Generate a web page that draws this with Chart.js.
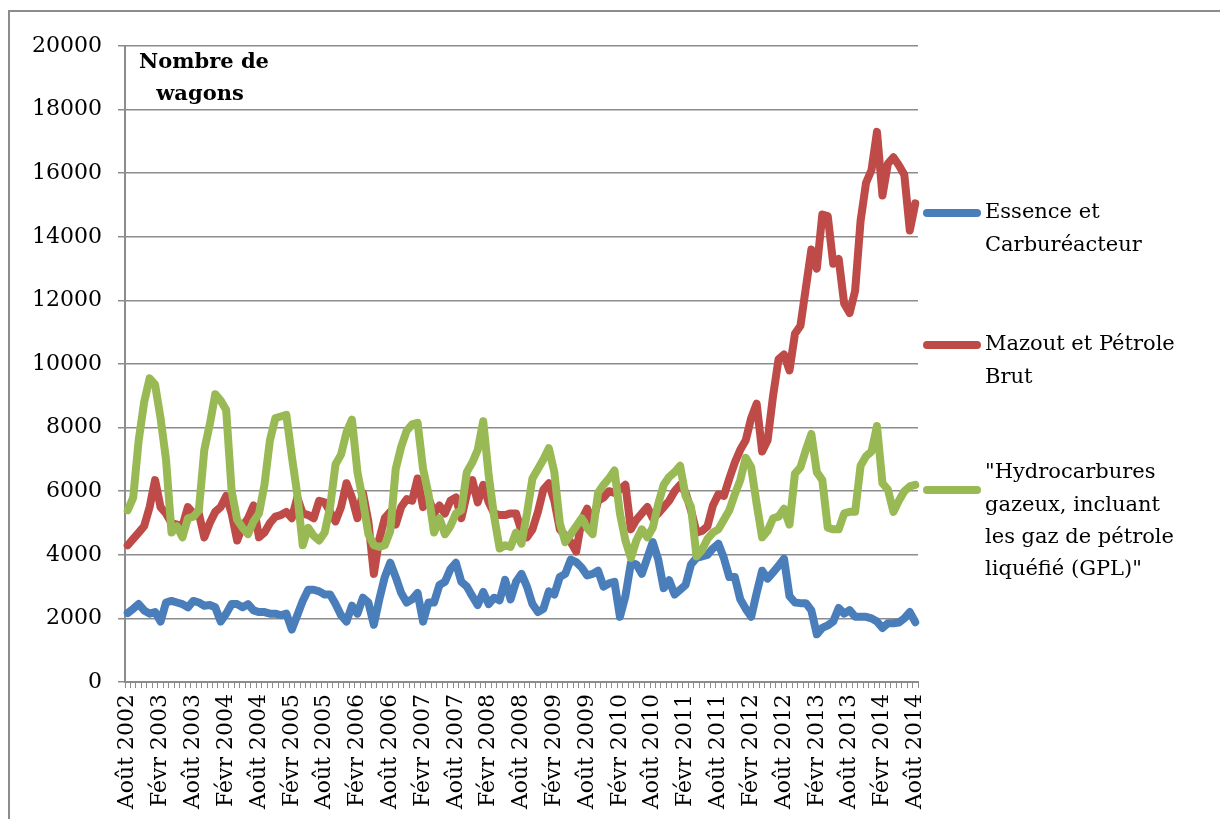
<!DOCTYPE html>
<html>
<head>
<meta charset="utf-8">
<script src="https://cdn.jsdelivr.net/npm/chart.js@4.4.1/dist/chart.umd.min.js"></script>
<style>
    html, body { margin: 0; padding: 0; background: #fff; overflow: hidden; }
    #wrap { position: relative; width: 1220px; height: 819px; }
    #frame {
        position: absolute; left: 8px; top: 10px; width: 1300px; height: 900px;
        border-left: 2px solid #8c8c8c; border-top: 2px solid #8c8c8c;
    }
    canvas { position: absolute; left: 0; top: 0; }
</style>
</head>
<body>
<div id="wrap">
    <div id="frame"></div>
    <canvas id="wagonsChart" width="1220" height="819"></canvas>
</div>
<script>
// Mois (Août 2002 -> Août 2014), une valeur par mois
const monthNames = ['Août', 'Sept', 'Oct', 'Nov', 'Déc', 'Janv', 'Févr', 'Mars', 'Avr', 'Mai', 'Juin', 'Juil'];
const startYear = 2002;
const monthCount = 145;

const seriesNames = [
    ['Essence et', 'Carburéacteur'],
    ['Mazout et Pétrole', 'Brut'],
    ['"Hydrocarbures', 'gazeux, incluant', 'les gaz de pétrole', 'liquéfié (GPL)"']
];
const seriesColors = ['#4a7ebb', '#be4b48', '#98b954'];

// Essence et Carburéacteur
const essence = [
    2170, 2300, 2450, 2250, 2150, 2200, 1900, 2500, 2550, 2500, 2450, 2350,
    2550, 2500, 2400, 2420, 2350, 1900, 2150, 2450, 2450, 2350, 2450, 2250,
    2200, 2200, 2150, 2150, 2100, 2150, 1650, 2100, 2550, 2900, 2900, 2850,
    2750, 2750, 2450, 2100, 1900, 2400, 2150, 2650, 2500, 1800, 2600, 3300,
    3750, 3300, 2800, 2500, 2600, 2800, 1900, 2500, 2500, 3050, 3150, 3550,
    3750, 3150, 3000, 2700, 2420, 2830, 2450, 2650, 2570, 3210, 2600, 3150,
    3400, 3000, 2450, 2200, 2300, 2850, 2750, 3300, 3400, 3850, 3770, 3600,
    3350, 3400, 3500, 3000, 3100, 3150, 2050, 2700, 3740, 3700, 3400, 3900,
    4400, 3850, 2950, 3200, 2750, 2900, 3050, 3700, 3900, 3950, 4000, 4200,
    4350, 3900, 3300, 3300, 2600, 2300, 2050, 2800, 3500, 3250, 3450, 3650,
    3880, 2700, 2500, 2480, 2480, 2250, 1500, 1700, 1780, 1900, 2330, 2150,
    2260, 2050, 2050, 2050, 2000, 1900, 1700, 1850, 1850, 1870, 2000, 2200,
    1880
];

// Mazout et Pétrole Brut
const mazout = [
    4300, 4500, 4700, 4900, 5500, 6350, 5500, 5300, 5000, 4950, 4900, 5500,
    5300, 5300, 4550, 5000, 5350, 5500, 5850, 5300, 4450, 4900, 5150, 5550,
    4550, 4700, 5000, 5200, 5250, 5350, 5150, 5800, 5300, 5250, 5150, 5700,
    5650, 5350, 5050, 5500, 6250, 5800, 5150, 5950, 5050, 3400, 4500, 5150,
    5350, 4950, 5500, 5750, 5700, 6400, 5500, 5800, 5300, 5550, 5300, 5700,
    5800, 5150, 5900, 6350, 5650, 6200, 5650, 5300, 5250, 5250, 5300, 5300,
    4750, 4550, 4800, 5350, 6050, 6250, 5700, 4800, 4600, 4400, 4100, 5100,
    5450, 5000, 5700, 5800, 6000, 5950, 6050, 6200, 4800, 5100, 5300, 5500,
    5150, 5300, 5500, 5700, 6000, 6200, 5950, 5400, 4700, 4750, 4900, 5550,
    5900, 5850, 6400, 6900, 7300, 7600, 8300, 8750, 7250, 7600, 9000, 10150,
    10300, 9800, 10950, 11200, 12400, 13600, 13000, 14700, 14650, 13150, 13300, 11900,
    11600, 12300, 14500, 15700, 16100, 17300, 15300, 16300, 16500, 16250, 15950, 14200,
    15050
];

// Hydrocarbures gazeux, incluant les GPL
const gpl = [
    5400, 5800, 7600, 8800, 9550, 9350, 8300, 7000, 4700, 4900, 4550, 5150,
    5200, 5400, 7300, 8100, 9050, 8850, 8550, 6000, 5100, 4850, 4650, 5050,
    5300, 6200, 7600, 8300, 8350, 8400, 7100, 5900, 4300, 4850, 4600, 4450,
    4700, 5500, 6850, 7150, 7850, 8250, 6600, 5700, 4650, 4300, 4250, 4300,
    4750, 6700, 7400, 7900, 8100, 8150, 6700, 5900, 4700, 5150, 4650, 4900,
    5300, 5400, 6600, 6900, 7300, 8200, 6500, 5200, 4200, 4300, 4250, 4700,
    4350, 5300, 6400, 6700, 7000, 7350, 6600, 5000, 4400, 4650, 4900, 5150,
    4850, 4650, 5950, 6200, 6400, 6650, 5300, 4450, 3900, 4450, 4800, 4550,
    4850, 5600, 6200, 6450, 6600, 6800, 5850, 5500, 3950, 4150, 4500, 4700,
    4800, 5100, 5400, 5900, 6350, 7050, 6750, 5600, 4550, 4750, 5150, 5200,
    5450, 4950, 6550, 6750, 7300, 7800, 6600, 6350, 4850, 4800, 4800, 5300,
    5350, 5350, 6800, 7100, 7250, 8050, 6250, 6050, 5350, 5700, 6000, 6150,
    6200
];

const yTicks = { min: 0, max: 20000, step: 2000 };
const axisTitle = ['Nombre de', 'wagons'];

// Étiquettes mensuelles
const labels = [];
for (let i = 0; i < monthCount; i++) {
    const m = i % 12;
    const year = startYear + Math.floor((i + 7) / 12);
    labels.push(monthNames[m] + ' ' + year);
}

const serif = "'DejaVu Serif', 'Liberation Serif', serif";
const gridGray = '#8c8c8c';

// Titre d'axe dans la zone du graphique + légende à droite
const annotations = {
    id: 'annotations',
    afterDraw(chart) {
        const ctx = chart.ctx;
        ctx.save();
        ctx.fillStyle = '#000';
        ctx.textAlign = 'center';
        ctx.textBaseline = 'middle';
        ctx.font = 'bold 21px ' + serif;
        ctx.fillText(axisTitle[0], 204, 63);
        ctx.fillText(axisTitle[1], 200, 95);

        // légende
        const sampleY = [213, 345, 490];
        const textTop = [213, 345, 473];
        ctx.textAlign = 'left';
        ctx.font = '21px ' + serif;
        chart.data.datasets.forEach((ds, i) => {
            ctx.strokeStyle = seriesColors[i];
            ctx.lineWidth = 8;
            ctx.lineCap = 'round';
            ctx.beginPath();
            ctx.moveTo(927, sampleY[i]);
            ctx.lineTo(977, sampleY[i]);
            ctx.stroke();
            seriesNames[i].forEach((line, j) => {
                ctx.fillText(line, 985, textTop[i] + j * 32.3);
            });
        });
        ctx.restore();
    }
};

const ctx = document.getElementById('wagonsChart').getContext('2d');
const wagonsChart = new Chart(ctx, {
    type: 'line',
    data: {
        labels: labels,
        datasets: [
            { label: seriesNames[0].join(' '), data: essence, borderColor: seriesColors[0], order: 3 },
            { label: seriesNames[1].join(' '), data: mazout, borderColor: seriesColors[1], order: 2 },
            { label: seriesNames[2].join(' '), data: gpl, borderColor: seriesColors[2], order: 1 }
        ]
    },
    options: {
        responsive: false,
        animation: false,
        devicePixelRatio: 1,
        layout: { padding: { left: 0, right: 302, top: 46, bottom: 0 } },
        elements: {
            line: { borderWidth: 8, tension: 0, borderJoinStyle: 'round', borderCapStyle: 'round', fill: false },
            point: { radius: 0, hoverRadius: 0 }
        },
        plugins: {
            legend: { display: false },
            tooltip: { enabled: false },
            title: { display: false }
        },
        scales: {
            x: {
                offset: true,
                afterFit: (scale) => { scale.height = 137; },
                grid: {
                    offset: true,
                    drawOnChartArea: false,
                    drawTicks: true,
                    tickLength: 6,
                    color: gridGray,
                    lineWidth: 1
                },
                border: { display: true, color: gridGray, width: 2 },
                ticks: {
                    autoSkip: false,
                    minRotation: 90,
                    maxRotation: 90,
                    padding: 6,
                    color: '#000',
                    font: { family: serif, size: 22 },
                    callback: (value, index) => (index % 6 === 0 ? labels[index] : '')
                }
            },
            y: {
                min: yTicks.min,
                max: yTicks.max,
                afterFit: (scale) => { scale.width = 125; },
                grid: {
                    color: gridGray,
                    lineWidth: 1.5,
                    drawTicks: true,
                    tickLength: 7
                },
                border: { display: true, color: gridGray, width: 2 },
                ticks: {
                    stepSize: yTicks.step,
                    padding: 16,
                    color: '#000',
                    font: { family: serif, size: 22 },
                    callback: (value) => String(value)
                }
            }
        }
    },
    plugins: [annotations]
});
</script>
</body>
</html>
